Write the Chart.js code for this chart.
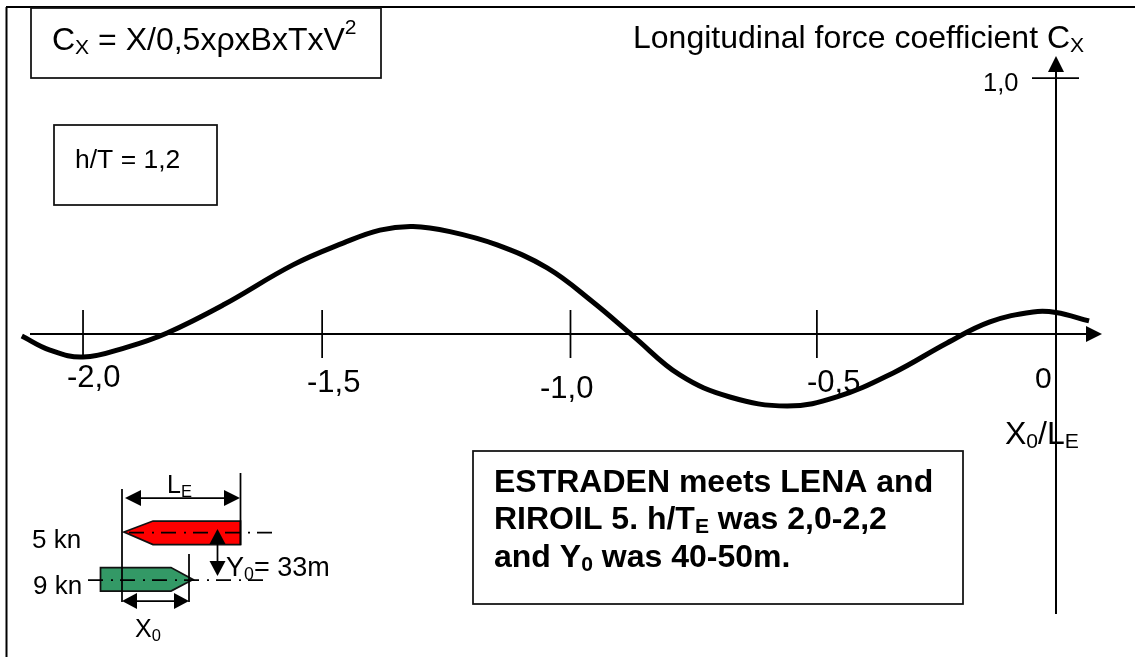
<!DOCTYPE html>
<html>
<head>
<meta charset="utf-8">
<title>Longitudinal force coefficient</title>
<script src="https://cdn.jsdelivr.net/npm/chart.js@4"></script>
<style>
  html, body { margin: 0; padding: 0; background: #fff; }
  #wrap { width: 1135px; height: 657px; }
</style>
</head>
<body>
<div id="wrap"><canvas id="forceChart" width="1135" height="657"></canvas></div>
<script>
// curve
const xRatio = [-2.128, -2.070, -2.002, -1.911, -1.829, -1.714, -1.570, -1.467, -1.391, -1.323, -1.247, -1.150, -1.047, -0.953, -0.870, -0.774, -0.671, -0.553, -0.451, -0.335, -0.224, -0.136, -0.047, 0, 0.068];
const cxValues = [-0.008, -0.063, -0.090, -0.051, 0.004, 0.113, 0.270, 0.355, 0.406, 0.420, 0.400, 0.348, 0.258, 0.125, -0.008, -0.160, -0.246, -0.281, -0.246, -0.152, -0.035, 0.047, 0.086, 0.084, 0.051];

// the ticks are hand placed in the original, -1,5 and -0,5 sit a bit off
const xTickValues = [-2.002, -1.51, -0.999, -0.492];
const xTickLabels = ['-2,0', '-1,5', '-1,0', '-0,5'];
const yTickValues = [1.0];
const yTickLabels = ['1,0'];

const FONT = '"Liberation Sans", Arial, sans-serif';

// runs: [text, 'n' | 'sub' | 'sup']
function drawRuns(ctx, x, y, runs, size, bold) {
  const weight = bold ? 'bold ' : '';
  ctx.fillStyle = '#000';
  ctx.textAlign = 'left';
  ctx.textBaseline = 'alphabetic';
  runs.forEach(([text, mode]) => {
    const s = mode && mode !== 'n' ? size * 0.66 : size;
    const dy = mode === 'sub' ? size * 0.14 : mode === 'sup' ? -size * 0.5 : 0;
    ctx.font = weight + s + 'px ' + FONT;
    ctx.fillText(text, x, y + dy);
    x += ctx.measureText(text).width;
  });
}

function line(ctx, x1, y1, x2, y2, w, dash) {
  ctx.save();
  ctx.strokeStyle = '#000';
  ctx.lineWidth = w;
  ctx.setLineDash(dash || []);
  ctx.beginPath();
  ctx.moveTo(x1, y1);
  ctx.lineTo(x2, y2);
  ctx.stroke();
  ctx.restore();
}

function arrowHead(ctx, tipX, tipY, dx, dy, len, half) {
  ctx.fillStyle = '#000';
  ctx.beginPath();
  ctx.moveTo(tipX, tipY);
  ctx.lineTo(tipX - dx * len - dy * half, tipY - dy * len - dx * half);
  ctx.lineTo(tipX - dx * len + dy * half, tipY - dy * len + dx * half);
  ctx.closePath();
  ctx.fill();
}

function box(ctx, x, y, w, h) {
  ctx.strokeStyle = '#111';
  ctx.lineWidth = 1.75;
  ctx.strokeRect(x, y, w, h);
}

function ship(ctx, pts, fill) {
  ctx.fillStyle = fill;
  ctx.strokeStyle = '#111';
  ctx.lineWidth = 1.75;
  ctx.beginPath();
  pts.forEach((p, i) => i ? ctx.lineTo(p[0], p[1]) : ctx.moveTo(p[0], p[1]));
  ctx.closePath();
  ctx.fill();
  ctx.stroke();
}

function drawSketch(ctx) {
  const dashDot = [15, 7, 2, 8];
  drawRuns(ctx, 32, 548, [['5 kn']], 26);
  drawRuns(ctx, 33, 594, [['9 kn']], 26);

  ship(ctx, [[124, 532], [153, 521], [240.5, 521], [240.5, 544.5], [153, 544.5]], '#ff0000');
  ship(ctx, [[100.5, 567.5], [171, 567.5], [193, 579.5], [171, 591], [100.5, 591]], '#339966');

  // centre lines run from the right so the last dash lands right
  line(ctx, 272, 532.5, 127, 532.5, 1.75, dashDot);
  line(ctx, 263, 580, 82, 580, 1.75, dashDot);

  line(ctx, 122, 489, 122, 602, 1.75);
  line(ctx, 240.5, 473, 240.5, 545, 1.75);
  line(ctx, 189, 554, 189, 602, 1.75);

  // L_E, X_0 and Y_0 dimensions
  line(ctx, 130, 498, 235, 498, 1.75);
  arrowHead(ctx, 125, 498, -1, 0, 16, 8);
  arrowHead(ctx, 240, 498, 1, 0, 16, 8);
  line(ctx, 128, 601, 184, 601, 1.75);
  arrowHead(ctx, 122, 601, -1, 0, 15, 8);
  arrowHead(ctx, 189, 601, 1, 0, 15, 8);
  line(ctx, 217.5, 535, 217.5, 570, 1.75);
  arrowHead(ctx, 217.5, 529, 0, -1, 15, 8);
  arrowHead(ctx, 217.5, 576, 0, 1, 15, 8);

  drawRuns(ctx, 167, 493, [['L'], ['E', 'sub']], 25);
  drawRuns(ctx, 226, 576, [['Y'], ['0', 'sub'], ['= 33m']], 27);
  drawRuns(ctx, 135, 637, [['X'], ['0', 'sub']], 25);
}

const sketchPlugin = {
  id: 'sketch',
  beforeDatasetsDraw(chart) {
    const ctx = chart.ctx;
    const xs = chart.scales.x, ys = chart.scales.y;
    const x0 = xs.getPixelForValue(0), y0 = ys.getPixelForValue(0);
    ctx.save();

    // outer frame, open at right and bottom
    line(ctx, 6.5, 657, 6.5, 7, 2);
    line(ctx, 6, 7, 1135, 7, 2);

    // axes with arrows
    line(ctx, 30, y0, 1088, y0, 2);
    arrowHead(ctx, 1102, y0, 1, 0, 16, 8);
    line(ctx, x0, 614, x0, 68, 2);
    arrowHead(ctx, x0, 56, 0, -1, 16, 8);

    // x ticks
    const labelPos = [[67, 387], [307, 392], [540, 398], [807, 392]];
    xTickValues.forEach((v, i) => {
      const px = xs.getPixelForValue(v);
      line(ctx, px, y0 - 24, px, y0 + 24, 1.75);
      drawRuns(ctx, labelPos[i][0], labelPos[i][1], [[xTickLabels[i]]], 31);
    });
    drawRuns(ctx, 1035, 388, [['0']], 30);

    // y tick
    yTickValues.forEach((v, i) => {
      const py = ys.getPixelForValue(v);
      line(ctx, x0 - 24, py, x0 + 23, py, 1.75);
      drawRuns(ctx, 983, py + 13, [[yTickLabels[i]]], 25.5);
    });

    // titles and boxes
    box(ctx, 31, 8, 350, 70);
    drawRuns(ctx, 52, 50, [['C'], ['X', 'sub'], [' = X/0,5xρxBxTxV'], ['2', 'sup']], 32);
    box(ctx, 54, 125, 163, 80);
    drawRuns(ctx, 75, 168, [['h/T = 1,2']], 26.5);
    drawRuns(ctx, 633, 48, [['Longitudinal force coefficient C'], ['X', 'sub']], 32);
    drawRuns(ctx, 1005, 444, [['X'], ['0', 'sub'], ['/L'], ['E', 'sub']], 32);

    box(ctx, 473, 451, 490, 153);
    drawRuns(ctx, 494, 492, [['ESTRADEN meets LENA and']], 32, true);
    drawRuns(ctx, 494, 529, [['RIROIL 5. h/T'], ['E', 'sub'], [' was 2,0-2,2']], 32, true);
    drawRuns(ctx, 494, 567, [['and Y'], ['0', 'sub'], [' was 40-50m.']], 32, true);

    drawSketch(ctx);
    ctx.restore();
  }
};

new Chart(document.getElementById('forceChart'), {
  type: 'line',
  data: {
    datasets: [{
      data: xRatio.map((x, i) => ({ x: x, y: cxValues[i] })),
      borderColor: '#000',
      borderWidth: 5,
      borderCapStyle: 'butt',
      pointRadius: 0,
      tension: 0.4,
      fill: false
    }]
  },
  options: {
    responsive: false,
    animation: false,
    layout: { padding: 0 },
    plugins: { legend: { display: false }, tooltip: { enabled: false }, title: { display: false } },
    scales: {
      x: { type: 'linear', display: false, min: -1056 / 486, max: 79 / 486 },
      y: { type: 'linear', display: false, min: -323 / 256, max: 334 / 256 }
    }
  },
  plugins: [sketchPlugin]
});
</script>
</body>
</html>
